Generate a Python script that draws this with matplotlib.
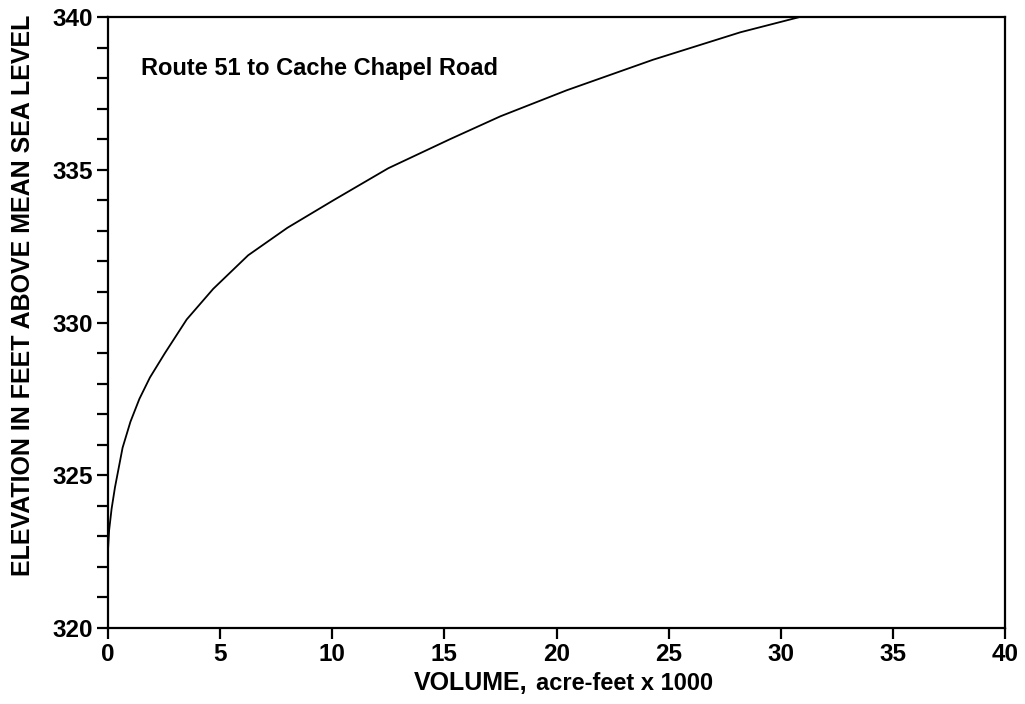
import matplotlib
matplotlib.use("Agg")
import matplotlib.pyplot as plt
from matplotlib.ticker import MultipleLocator

plt.rcParams['font.family'] = ['Liberation Sans', 'DejaVu Sans']

# Data
volume = [0.0, 0.05, 0.16, 0.31, 0.65, 1.0, 1.4, 1.87, 2.54, 3.51, 4.69, 6.25,
          8.0, 10.05, 12.5, 15.25, 17.5, 20.45, 24.3, 28.2, 30.85]
elevation = [322.55, 323.2, 323.9, 324.6, 325.9, 326.75, 327.5, 328.2, 329.0,
             330.1, 331.1, 332.2, 333.1, 334.0, 335.05, 336.0, 336.75, 337.6,
             338.6, 339.5, 340.0]
x_ticks = [0, 5, 10, 15, 20, 25, 30, 35, 40]
y_ticks = [320, 325, 330, 335, 340]
annotation = "Route 51 to Cache Chapel Road"
y_label = "ELEVATION IN FEET ABOVE MEAN SEA LEVEL"

fig = plt.figure(figsize=(10.25, 7.04), dpi=100)
ax = fig.add_axes([108/1025, 1 - 628/704, (1005-108)/1025, (628-17)/704])

ax.plot(volume, elevation, color='black', lw=1.3)

ax.set_xlim(0, 40)
ax.set_ylim(320, 340)
ax.set_xticks(x_ticks)
ax.set_yticks(y_ticks)
ax.yaxis.set_minor_locator(MultipleLocator(1))

for s in ax.spines.values():
    s.set_linewidth(1.6)

ax.tick_params(axis='both', which='major', direction='out', length=8, width=1.6,
               labelsize=17.5, pad=3)
ax.tick_params(axis='y', which='minor', direction='out', length=8, width=1.6)
for lab in ax.get_xticklabels() + ax.get_yticklabels():
    lab.set_fontweight('bold')

ax.set_ylabel(y_label, fontsize=18, fontweight='bold')
ax.yaxis.set_label_coords(-0.081, 0.545)

ax.text(0.037, 0.905, annotation, transform=ax.transAxes, fontsize=17,
        fontweight='bold', ha='left', va='baseline')

fig.text(527/1025, 1 - 690/704, "VOLUME,", fontsize=18, fontweight='bold',
         ha='right', va='baseline')
fig.text(536/1025, 1 - 690/704, "acre-feet x 1000", fontsize=17, fontweight='bold',
         ha='left', va='baseline')

fig.savefig("out.png", dpi=100)
